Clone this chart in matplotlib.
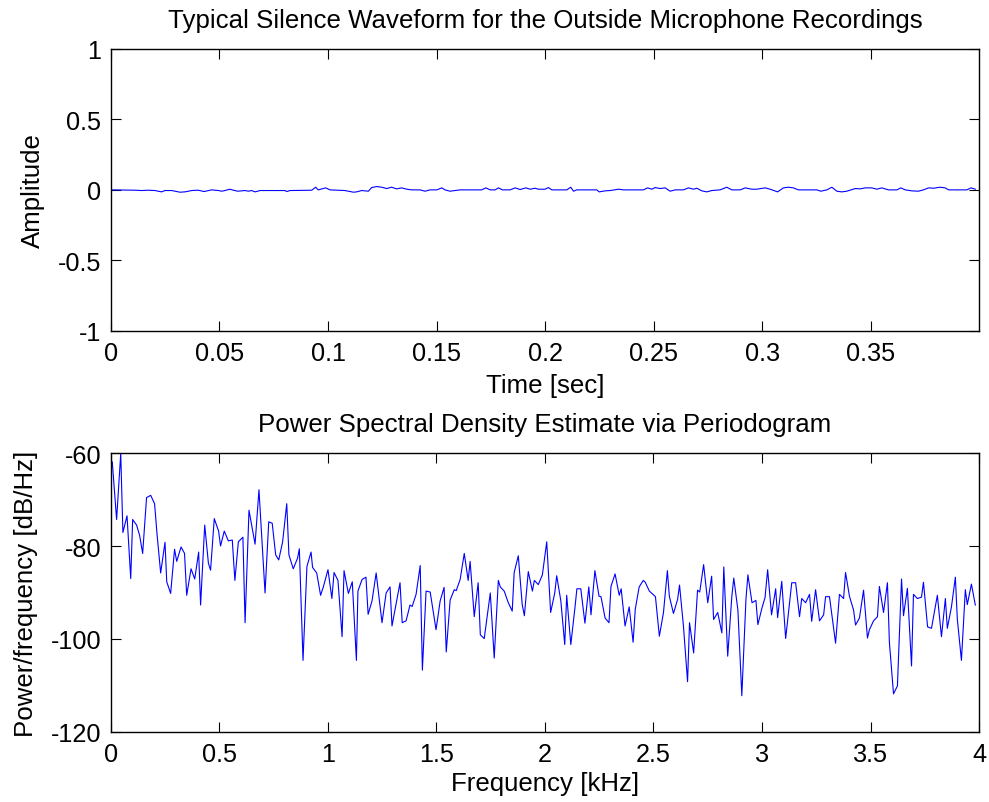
import matplotlib
matplotlib.use('Agg')
import matplotlib.pyplot as plt

plt.rcParams['font.family'] = ['Liberation Sans', 'DejaVu Sans']
plt.rcParams['axes.unicode_minus'] = False

# silence waveform (time in s, amplitude)
wave_t = [0.0, 0.0111, 0.0141, 0.0172, 0.0203, 0.0233, 0.0249, 0.0280, 0.0303, 0.0318,
          0.0341, 0.0372, 0.0402, 0.0429, 0.0464, 0.0495, 0.0510, 0.0525, 0.0548, 0.0564,
          0.0584, 0.0618, 0.0633, 0.0648, 0.0664, 0.0687, 0.0802, 0.0810, 0.0825, 0.0925,
          0.0943, 0.0955, 0.0989, 0.1009, 0.1048, 0.1078, 0.1117, 0.1132, 0.1155, 0.1186,
          0.1201, 0.1224, 0.1247, 0.1270, 0.1293, 0.1316, 0.1339, 0.1363, 0.1386, 0.1424,
          0.1447, 0.1470, 0.1501, 0.1524, 0.1539, 0.1562, 0.1585, 0.1608, 0.1708, 0.1727,
          0.1747, 0.1770, 0.1785, 0.1803, 0.1839, 0.1862, 0.1885, 0.1911, 0.1931, 0.1954,
          0.1969, 0.2000, 0.2015, 0.2031, 0.2100, 0.2118, 0.2131, 0.2146, 0.2238, 0.2249,
          0.2276, 0.2300, 0.2338, 0.2361, 0.2453, 0.2472, 0.2492, 0.2507, 0.2530, 0.2553,
          0.2576, 0.2599, 0.2637, 0.2661, 0.2684, 0.2699, 0.2722, 0.2745, 0.2768, 0.2806,
          0.2837, 0.2860, 0.2899, 0.2922, 0.2952, 0.2975, 0.3014, 0.3037, 0.3071, 0.3098,
          0.3121, 0.3144, 0.3167, 0.3252, 0.3270, 0.3298, 0.3321, 0.3344, 0.3367, 0.3390,
          0.3429, 0.3452, 0.3475, 0.3505, 0.3528, 0.3551, 0.3582, 0.3621, 0.3639, 0.3659,
          0.3690, 0.3720, 0.3743, 0.3767, 0.3790, 0.3820, 0.3843, 0.3859, 0.3943, 0.3962,
          0.3982]
wave_amp = [0.0, -0.0024, -0.0047, -0.0024, -0.0047, -0.0142, -0.0047, -0.0047, -0.0118, -0.0165,
            -0.0142, -0.0047, -0.0024, -0.0118, 0.0, -0.0047, -0.0094, -0.0047, 0.0047, -0.0024,
            -0.0094, -0.0047, -0.0094, -0.0047, -0.0142, -0.0047, -0.0047, -0.0118, -0.0047, -0.0024,
            0.0189, 0.0, 0.0142, 0.0, -0.0024, -0.0047, -0.0165, -0.0142, -0.0047, -0.0094,
            0.0165, 0.0236, 0.0189, 0.0094, 0.0189, 0.0071, 0.0142, 0.0047, 0.0, 0.0,
            -0.0094, 0.0, 0.0, 0.0142, 0.0, -0.0094, -0.0047, 0.0, 0.0, 0.0142,
            0.0, 0.0, 0.0142, 0.0, 0.0, 0.0142, 0.0024, 0.0142, 0.0047, 0.0118,
            0.0047, 0.0047, 0.0165, 0.0, 0.0, 0.0189, -0.0094, 0.0, 0.0, -0.0142,
            -0.0071, -0.0047, 0.0047, 0.0, 0.0, 0.0142, 0.0047, 0.0165, 0.0094, 0.0142,
            -0.0094, 0.0, 0.0, 0.0142, 0.0047, 0.0118, -0.0071, -0.0142, -0.0047, 0.0,
            0.0189, 0.0, 0.0, 0.0142, 0.0047, 0.0047, 0.0142, 0.0047, -0.0142, 0.0142,
            0.0189, 0.0142, 0.0, 0.0, -0.0094, 0.0, 0.0189, -0.0094, -0.0142, -0.0094,
            0.0094, 0.0071, 0.0142, 0.0142, 0.0047, 0.0142, 0.0, 0.0, 0.0142, 0.0,
            -0.0071, -0.0094, 0.0, 0.0142, 0.0118, 0.0189, 0.0142, 0.0, 0.0, 0.0142,
            0.0047]

# periodogram (kHz, dB/Hz)
psd_khz = [0.000, 0.006, 0.026, 0.045, 0.055, 0.074, 0.091, 0.100, 0.118, 0.132,
           0.146, 0.164, 0.183, 0.201, 0.212, 0.229, 0.249, 0.257, 0.275, 0.293,
           0.303, 0.323, 0.339, 0.349, 0.369, 0.386, 0.404, 0.413, 0.432, 0.449,
           0.459, 0.476, 0.496, 0.505, 0.522, 0.541, 0.559, 0.571, 0.587, 0.608,
           0.618, 0.636, 0.657, 0.664, 0.682, 0.694, 0.710, 0.727, 0.743, 0.759,
           0.773, 0.791, 0.810, 0.820, 0.840, 0.860, 0.868, 0.885, 0.903, 0.922,
           0.929, 0.948, 0.966, 0.978, 1.000, 1.018, 1.028, 1.046, 1.065, 1.074,
           1.094, 1.112, 1.131, 1.138, 1.157, 1.175, 1.185, 1.203, 1.222, 1.249,
           1.268, 1.286, 1.295, 1.332, 1.342, 1.360, 1.378, 1.388, 1.406, 1.425,
           1.435, 1.452, 1.471, 1.498, 1.517, 1.535, 1.545, 1.563, 1.582, 1.591,
           1.609, 1.628, 1.646, 1.655, 1.674, 1.692, 1.702, 1.720, 1.748, 1.766,
           1.785, 1.794, 1.812, 1.831, 1.849, 1.858, 1.877, 1.895, 1.905, 1.923,
           1.942, 1.951, 1.969, 1.988, 2.008, 2.026, 2.045, 2.054, 2.073, 2.091,
           2.100, 2.119, 2.138, 2.147, 2.165, 2.184, 2.202, 2.212, 2.230, 2.249,
           2.258, 2.277, 2.295, 2.304, 2.323, 2.342, 2.351, 2.369, 2.388, 2.406,
           2.416, 2.434, 2.453, 2.462, 2.481, 2.509, 2.527, 2.546, 2.564, 2.573,
           2.592, 2.611, 2.620, 2.638, 2.657, 2.666, 2.685, 2.703, 2.713, 2.731,
           2.750, 2.768, 2.777, 2.796, 2.815, 2.824, 2.842, 2.861, 2.870, 2.889,
           2.907, 2.926, 2.935, 2.954, 2.972, 2.981, 3.000, 3.014, 3.026, 3.044,
           3.063, 3.072, 3.091, 3.109, 3.137, 3.155, 3.173, 3.183, 3.201, 3.219,
           3.229, 3.247, 3.265, 3.284, 3.293, 3.311, 3.339, 3.357, 3.376, 3.385,
           3.403, 3.422, 3.431, 3.449, 3.468, 3.486, 3.495, 3.514, 3.532, 3.541,
           3.560, 3.578, 3.587, 3.606, 3.624, 3.643, 3.652, 3.670, 3.689, 3.698,
           3.716, 3.735, 3.744, 3.763, 3.781, 3.808, 3.827, 3.845, 3.854, 3.873,
           3.891, 3.900, 3.919, 3.937, 3.946, 3.965, 3.983]
psd_db = [-61.7, -61.9, -74.3, -60.1, -77.1, -73.5, -87.0, -74.3, -75.5, -77.7,
          -81.6, -69.6, -69.1, -70.9, -77.3, -85.8, -79.2, -87.7, -90.2, -80.7,
          -83.3, -80.2, -81.6, -90.6, -84.9, -87.1, -81.3, -92.7, -75.5, -83.7,
          -85.2, -74.1, -76.8, -80.0, -76.8, -78.9, -78.7, -87.4, -79.1, -78.1,
          -96.5, -72.3, -77.7, -79.6, -67.9, -77.3, -90.1, -74.8, -75.1, -81.9,
          -83.0, -79.1, -70.9, -81.9, -84.9, -82.6, -80.6, -104.6, -84.4, -81.3,
          -84.6, -85.8, -90.6, -88.9, -85.1, -91.3, -85.7, -87.4, -99.5, -85.3,
          -90.2, -87.7, -104.6, -89.7, -87.2, -86.7, -94.7, -91.8, -85.8, -96.5,
          -90.1, -88.8, -97.2, -87.9, -96.5, -96.1, -92.7, -93.0, -90.4, -84.2,
          -106.7, -89.7, -89.9, -98.0, -91.8, -88.9, -102.8, -91.6, -89.4, -89.6,
          -87.2, -81.6, -87.4, -83.3, -95.2, -87.9, -99.1, -99.9, -90.1, -104.1,
          -87.4, -88.8, -89.7, -92.2, -94.0, -85.7, -82.1, -92.6, -95.0, -85.5,
          -89.7, -87.4, -88.3, -86.2, -79.1, -94.3, -90.1, -86.4, -91.8, -101.2,
          -90.6, -101.2, -93.3, -89.2, -89.2, -96.6, -88.8, -94.8, -85.3, -90.8,
          -90.9, -95.5, -96.5, -88.7, -86.0, -90.6, -89.2, -97.2, -93.1, -100.7,
          -93.6, -88.8, -87.4, -87.8, -89.7, -90.9, -99.4, -94.3, -85.3, -90.8,
          -94.5, -91.5, -88.4, -97.2, -109.2, -96.5, -103.0, -89.5, -89.9, -84.0,
          -92.2, -86.5, -95.8, -94.3, -98.7, -84.5, -103.7, -90.8, -86.9, -93.8,
          -112.2, -91.5, -86.2, -92.2, -91.7, -96.9, -93.3, -91.1, -85.1, -94.8,
          -89.2, -95.4, -87.6, -99.9, -87.9, -87.9, -95.2, -91.3, -92.2, -90.4,
          -96.2, -89.4, -96.1, -94.8, -90.9, -90.9, -100.9, -90.4, -91.3, -85.7,
          -90.8, -93.8, -97.0, -95.5, -89.5, -99.8, -98.0, -96.1, -95.2, -88.7,
          -94.3, -87.9, -100.7, -111.8, -110.1, -87.1, -95.0, -89.1, -105.8, -90.4,
          -91.3, -91.0, -87.8, -97.4, -97.7, -90.6, -99.5, -91.3, -97.7, -93.1,
          -86.7, -95.7, -104.6, -89.4, -92.6, -88.2, -92.7]

wave_xticks = [0, 0.05, 0.1, 0.15, 0.2, 0.25, 0.3, 0.35]
wave_xlabels = ['0', '0.05', '0.1', '0.15', '0.2', '0.25', '0.3', '0.35']
wave_yticks = [-1, -0.5, 0, 0.5, 1]
wave_ylabels = ['-1', '-0.5', '0', '0.5', '1']
psd_xticks = [0, 0.5, 1, 1.5, 2, 2.5, 3, 3.5, 4]
psd_xlabels = ['0', '0.5', '1', '1.5', '2', '2.5', '3', '3.5', '4']
psd_yticks = [-120, -100, -80, -60]
psd_ylabels = ['-120', '-100', '-80', '-60']

fs = 18.6
tfs = 18.2
fig = plt.figure(figsize=(9.89, 8.03), dpi=100)
ax1 = fig.add_axes([0.1122, 0.5868, 0.8777, 0.3510])
ax2 = fig.add_axes([0.1122, 0.0872, 0.8777, 0.3474])

for ax in (ax1, ax2):
    ax.tick_params(direction='in', length=7, width=0.8, top=True, right=True,
                   labelsize=tfs, pad=7, colors='black')
    for s in ax.spines.values():
        s.set_linewidth(1.0)

ax1.plot(wave_t, wave_amp, color='#0000ff', lw=0.8)
ax1.set_xlim(0, 0.3999)
ax1.set_ylim(-1, 1)
ax1.set_xticks(wave_xticks)
ax1.set_xticklabels(wave_xlabels)
ax1.set_yticks(wave_yticks)
ax1.set_yticklabels(wave_ylabels)
ax1.set_xlabel('Time [sec]', fontsize=fs, labelpad=6)
ax1.set_ylabel('Amplitude', fontsize=fs, labelpad=9)
ax1.set_title('Typical Silence Waveform for the Outside Microphone Recordings',
              fontsize=fs, pad=16)

ax2.plot(psd_khz, psd_db, color='#0000ff', lw=0.8)
ax2.set_xlim(0, 4)
ax2.set_ylim(-120, -60)
ax2.set_xticks(psd_xticks)
ax2.set_xticklabels(psd_xlabels)
ax2.set_yticks(psd_yticks)
ax2.set_yticklabels(psd_ylabels)
ax2.set_xlabel('Frequency [kHz]', fontsize=fs, labelpad=4)
ax2.set_ylabel('Power/frequency [dB/Hz]', fontsize=fs, labelpad=9)
ax2.set_title('Power Spectral Density Estimate via Periodogram', fontsize=fs, pad=16)

fig.savefig('out.png', dpi=100)
